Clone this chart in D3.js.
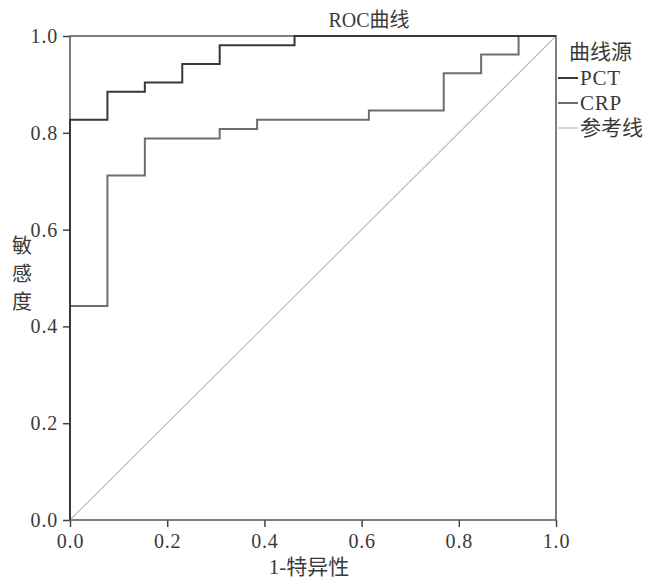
<!DOCTYPE html>
<html>
<head>
<meta charset="utf-8">
<script src="https://cdn.jsdelivr.net/npm/d3@7"></script>
<style>
  html, body { margin: 0; padding: 0; background: #fff; }
  svg text { font-family: "Liberation Serif", "Noto Sans CJK SC", serif; fill: #3a3a3a; }
</style>
</head>
<body>
<div id="chart"></div>
<script>
// ROC points: [1 - specificity, sensitivity]
const pctFpr = [0, 0, 0.077, 0.154, 0.231, 0.308, 0.462, 1.0];
const pctTpr = [0, 0.827, 0.885, 0.904, 0.942, 0.981, 1.0, 1.0];
const crpFpr = [0, 0, 0.077, 0.154, 0.308, 0.385, 0.615, 0.769, 0.846, 0.923, 1.0];
const crpTpr = [0, 0.442, 0.712, 0.788, 0.808, 0.827, 0.846, 0.923, 0.962, 1.0, 1.0];
const refFpr = [0, 1];
const refTpr = [0, 1];

const tickValues = [0, 0.2, 0.4, 0.6, 0.8, 1.0];
const legendLabels = ['PCT', 'CRP', '参考线'];
const legendColors = ['#383838', '#6e6e6e', '#bdbdbd'];

const width = 650, height = 581;
const margin = { top: 36, left: 70, right: 94, bottom: 61 };
const innerW = width - margin.left - margin.right;
const innerH = height - margin.top - margin.bottom;

const svg = d3.select('#chart').append('svg')
    .attr('width', width)
    .attr('height', height);

const g = svg.append('g')
    .attr('transform', `translate(${margin.left},${margin.top})`);

const x = d3.scaleLinear().domain([0, 1]).range([0, innerW]);
const y = d3.scaleLinear().domain([0, 1]).range([innerH, 0]);

// Axes
const xAxis = g.append('g')
    .attr('transform', `translate(0,${innerH})`)
    .call(d3.axisBottom(x).tickValues(tickValues).tickFormat(d3.format('.1f')).tickSize(7).tickPadding(7));
const yAxis = g.append('g')
    .call(d3.axisLeft(y).tickValues(tickValues).tickFormat(d3.format('.1f')).tickSize(7).tickPadding(5));

[xAxis, yAxis].forEach(a => {
    a.select('.domain').remove();
    a.selectAll('line').attr('stroke', '#444').attr('stroke-width', 1.5);
    a.selectAll('text')
        .attr('font-size', 20)
        .attr('letter-spacing', 0.8)
        .attr('fill', '#3a3a3a');
});

// Frame
g.append('rect')
    .attr('width', innerW)
    .attr('height', innerH)
    .attr('fill', 'none')
    .attr('stroke', '#555')
    .attr('stroke-width', 1.5);

// Curves
const series = [
    { fpr: refFpr, tpr: refTpr, color: legendColors[2], width: 1.2, step: false },
    { fpr: crpFpr, tpr: crpTpr, color: legendColors[1], width: 2, step: true },
    { fpr: pctFpr, tpr: pctTpr, color: legendColors[0], width: 2, step: true }
];

series.forEach(s => {
    const pts = s.fpr.map((v, i) => [v, s.tpr[i]]);
    const line = d3.line()
        .x(d => x(d[0]))
        .y(d => y(d[1]))
        .curve(s.step ? d3.curveStepAfter : d3.curveLinear);
    g.append('path')
        .datum(pts)
        .attr('d', line)
        .attr('fill', 'none')
        .attr('stroke', s.color)
        .attr('stroke-width', s.width);
});

// Title
svg.append('text')
    .attr('x', 369)
    .attr('y', 27)
    .attr('text-anchor', 'middle')
    .attr('font-size', 20)
    .text('ROC曲线');

// X label
svg.append('text')
    .attr('x', margin.left + innerW / 2 - 4)
    .attr('y', 574)
    .attr('text-anchor', 'middle')
    .attr('font-size', 21)
    .text('1-特异性');

// Y label, stacked characters
const yLabel = svg.append('text')
    .attr('x', 22)
    .attr('y', 253)
    .attr('text-anchor', 'middle')
    .attr('font-size', 20);
['敏', '感', '度'].forEach((c, i) => {
    yLabel.append('tspan')
        .attr('x', 22)
        .attr('dy', i === 0 ? 0 : 28)
        .text(c);
});

// Legend
const legend = svg.append('g')
    .attr('transform', `translate(${margin.left + innerW + 2},0)`);

legend.append('text')
    .attr('x', 11)
    .attr('y', 59)
    .attr('font-size', 21)
    .text('曲线源');

legendLabels.forEach((lab, i) => {
    const yy = 78 + i * 25;
    legend.append('line')
        .attr('x1', 0).attr('x2', 20)
        .attr('y1', yy).attr('y2', yy)
        .attr('stroke', legendColors[i])
        .attr('stroke-width', i === 2 ? 1.2 : 2);
    legend.append('text')
        .attr('x', 22)
        .attr('y', yy + 7)
        .attr('font-size', 21)
        .attr('letter-spacing', i === 2 ? 0 : 0.8)
        .text(lab);
});
</script>
</body>
</html>
